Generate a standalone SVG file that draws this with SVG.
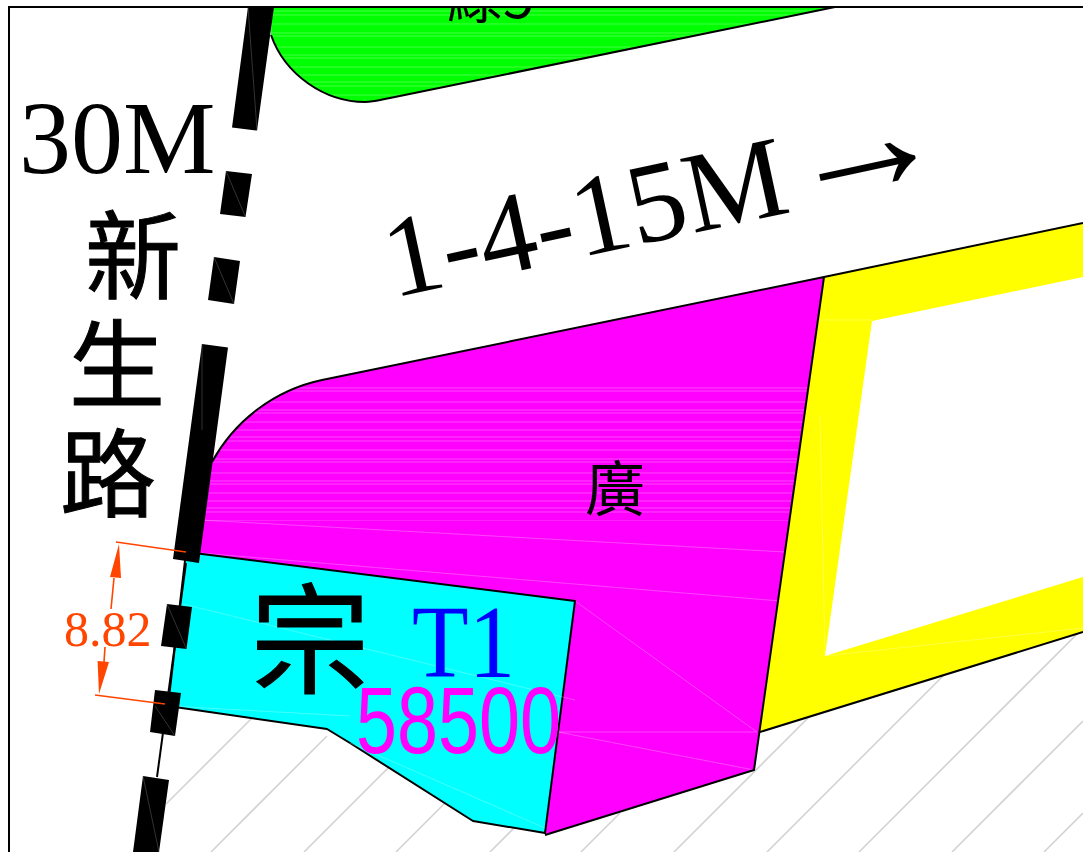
<svg xmlns="http://www.w3.org/2000/svg" width="1083" height="852" viewBox="0 0 1083 852">
<style>
.edge{stroke:#000;stroke-width:2;stroke-linejoin:round}
.road{fill:#000}
.hatch{stroke:#d3d3d3;stroke-width:1.6;fill:none}
.seam{stroke:#fff;stroke-width:.6;opacity:.45;fill:none}
.stripe{stroke:#fff;stroke-width:.9;opacity:.3;fill:none}
.serif{font-family:"Liberation Serif","Noto Serif CJK TC",serif}
.cjk{font-family:"Noto Sans CJK TC","Noto Sans CJK SC",sans-serif;fill:#000}
.heavy{stroke:#000;stroke-width:1}
.dim{stroke:#ff4500;stroke-width:1.6;fill:none}
</style>
<defs>
<clipPath id="page"><rect x="9" y="7" width="1074" height="845"/></clipPath>
<clipPath id="greenClip"><path d="M272,7 L271,35 C285,75 325,102 365,102 C373,102 380,100 390,98 L835,7 Z"/></clipPath>
<clipPath id="magClip"><path d="M212,462 C235,420 275,390 322,380 L824,277 L754,770 L545,835 L575,601 L198,553 Z"/></clipPath>
<pattern id="stripes" width="500" height="71" patternUnits="userSpaceOnUse">
<path class="stripe" d="M0,4H500M0,11H500M0,15H500M0,24H500M0,33H500M0,36H500M0,47H500M0,55H500M0,58H500M0,67H500"/>
</pattern>
</defs>
<rect width="1083" height="852" fill="#fff"/>
<g id="hatching">
<path class="hatch" d="M166,804L252,718M211,852L327,736M304,852L400,756M396,852L480,768M490,852L530,812M581,852L620,813M674,852L820,706M767,852L960,659M859,852L1083,628M952,852L1083,721M1044,852L1083,813"/>
</g>
<g id="green-lot">
<path d="M272,7 L271,35 C285,75 325,102 365,102 C373,102 380,100 390,98 L835,7 Z" fill="#0f0"/>
<rect x="265" y="7" width="575" height="96" fill="url(#stripes)" clip-path="url(#greenClip)"/>
<path class="edge" fill="none" d="M271,35 C285,75 325,102 365,102 C373,102 380,100 390,98 L835,7"/>
<g clip-path="url(#page)"><text class="cjk" x="447" y="18" font-size="56">綠5</text></g>
</g>
<g id="yellow-lot">
<path fill-rule="evenodd" d="M824,277 L1083,223 V632 L760,732 Z M872,321 L825,656 L1083,577 V277 Z" fill="#ff0"/>
<path class="edge" fill="none" d="M824,277 L1083,223 M760,732 L1083,632"/>
<path class="seam" d="M821,320H872M820,415L825,656L1083,628"/>
</g>
<g id="plaza">
<path d="M212,462 C235,420 275,390 322,380 L824,277 L754,770 L545,835 L575,601 L198,553 Z" fill="#f0f"/>
<rect x="195" y="380" width="640" height="141" fill="url(#stripes)" clip-path="url(#magClip)"/>
<path class="seam" clip-path="url(#magClip)" d="M200,520L785,552M200,553L780,601M575,601L757,732M558,732L754,770M558,732H757"/>
<path class="edge" fill="none" d="M212,462 C235,420 275,390 322,380 L824,277 L754,770 L545,835"/>
<text class="cjk" x="585" y="511" font-size="60">廣</text>
</g>
<g id="lot-t1">
<path class="edge" d="M186,552 L575,601 L545,833 L473,821 L350,743 L327,729 L168,706 Z" fill="#0ff"/>
<path class="seam" d="M183,604L575,700M170,706L350,716M350,743L545,828"/>
<text class="cjk heavy" x="250" y="685" font-size="120">宗</text>
<text class="serif" x="412" y="677" font-size="103" fill="#00f" textLength="103" lengthAdjust="spacingAndGlyphs">T1</text>
<text x="356" y="753" font-size="94" fill="#f0f" font-family="Liberation Sans,sans-serif" textLength="205" lengthAdjust="spacingAndGlyphs">58500</text>
</g>
<g id="road">
<path class="road" d="M248,7H274L257,130.5L232,127.5Z M226,171L252,174L245.500,217L220,214Z M214,257L240,261L234,304L208,300Z M202,344L228,347.500L199,563L173,559Z M167,604L192,607L186.500,649L161,646Z M155,690L181,693L175,736L150,732Z M143,776L169,780L159,852H133Z"/>
<path d="M186,563L157,777" stroke="#000" stroke-width="2" fill="none"/>
<path d="M248,7L257,130M226,171L245.500,217M214,257L234,304M202,344L202,430M167,604L186.500,649M155,706L175,736M143,776L159,852" stroke="#666" stroke-width=".5" fill="none"/>
</g>
<g id="road-label" class="serif">
<text x="19" y="173" font-size="104">30M</text>
<text class="cjk heavy" x="85" y="291" font-size="96">新</text>
<text class="cjk heavy" x="69" y="400" font-size="96">生</text>
<text class="cjk heavy" x="60" y="509" font-size="96">路</text>
</g>
<text id="lane-label" class="serif" font-size="115" transform="translate(393,298) rotate(-12.2)">1-4-15M<tspan font-size="165" dy="0" dx="-41"> →</tspan></text>
<g id="dimension">
<path class="dim" d="M116,542L186,552M95,695L165,704M114,578L111,609M105,647L104,662"/>
<path d="M119,544L110,577L121,578Z M99,694L97.600,661L109,662Z" fill="#ff4500"/>
<text class="serif" x="64" y="646" font-size="50" fill="#ff4500">8.82</text>
</g>
<path id="frame" d="M9,852V7H1083" fill="none" stroke="#000" stroke-width="2"/>
</svg>
